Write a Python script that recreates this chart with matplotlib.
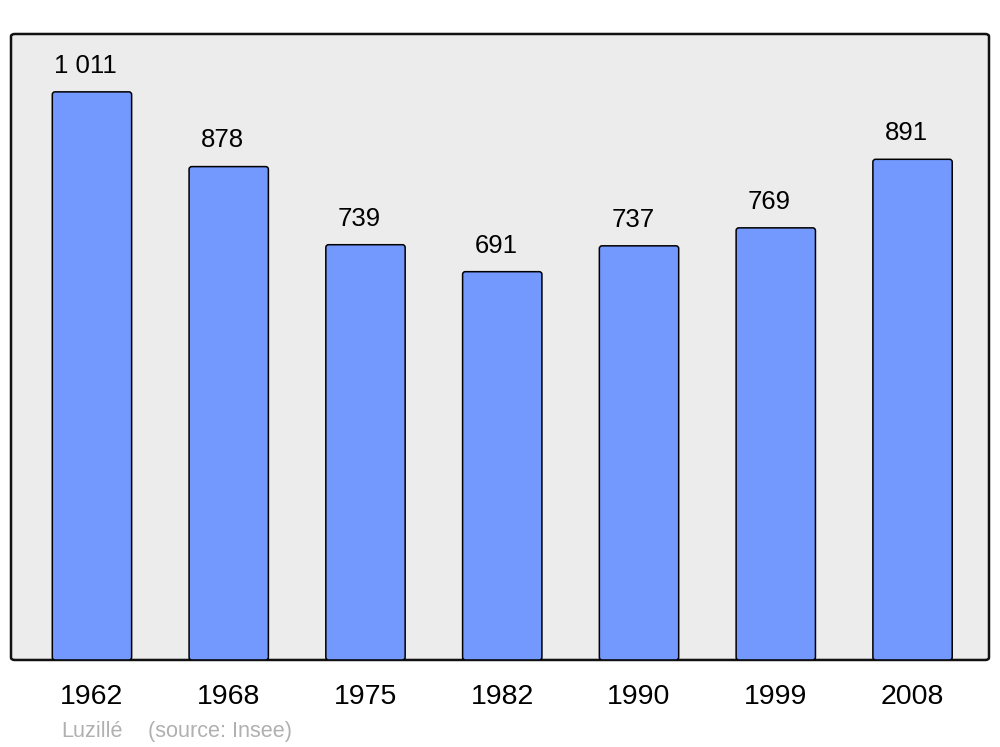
import matplotlib
matplotlib.use("Agg")
import matplotlib.pyplot as plt
from matplotlib.patches import FancyBboxPatch

plt.rcParams["font.family"] = ["Liberation Sans", "DejaVu Sans"]

# données : population de Luzillé (source Insee)
years = ["1962", "1968", "1975", "1982", "1990", "1999", "2008"]
population = [1011, 878, 739, 691, 737, 769, 891]
value_labels = ["1 011", "878", "739", "691", "737", "769", "891"]
commune = "Luzillé"
source = "(source: Insee)"

fig = plt.figure(figsize=(10, 7.47), dpi=100)
ax = fig.add_axes([0.011, 0.1165, 0.978, 0.838])

# fond gris avec coins arrondis
ax.patch.set_visible(False)
frame = FancyBboxPatch((0, 0), 1, 1, boxstyle="round,pad=0,rounding_size=0.004",
                       transform=ax.transAxes, facecolor="#ececec",
                       edgecolor="#111111", linewidth=1.8, zorder=0, clip_on=False)
ax.add_patch(frame)
for s in ax.spines.values():
    s.set_visible(False)

ax.set_xlim(-0.592, 6.559)
ax.set_ylim(0, 1114)

x = range(len(years))
bars = ax.bar(x, population, width=0.58, color="#7399ff", edgecolor="black",
              linewidth=1.1, zorder=2)

# coins arrondis des barres (rapport d'échelle y/x en pixels)
aspect = (1114 / 626) / (7.151 / 978)
for r in bars:
    r.set_visible(False)
    ax.add_patch(FancyBboxPatch((r.get_x(), r.get_y()), r.get_width(), r.get_height(),
                                boxstyle="round,pad=0,rounding_size=0.02",
                                mutation_aspect=aspect, facecolor="#7399ff",
                                edgecolor="black", linewidth=1.1, zorder=2))

for xi, v, lab in zip(x, population, value_labels):
    ax.annotate(lab, (xi, v), xytext=(-4.5, 18.8), textcoords="offset points",
                ha="center", va="center", fontsize=18.5, color="black")

ax.set_xticks(list(x))
ax.set_xticklabels(years, fontsize=20.5)
ax.tick_params(axis="x", length=0, pad=17.5)
ax.set_yticks([])

fig.text(0.061, 0.0135, commune, color="#b0b0b0", fontsize=15.6, ha="left", va="baseline")
fig.text(0.148, 0.0135, source, color="#b0b0b0", fontsize=15.6, ha="left", va="baseline")

fig.savefig("out.png", dpi=100)
